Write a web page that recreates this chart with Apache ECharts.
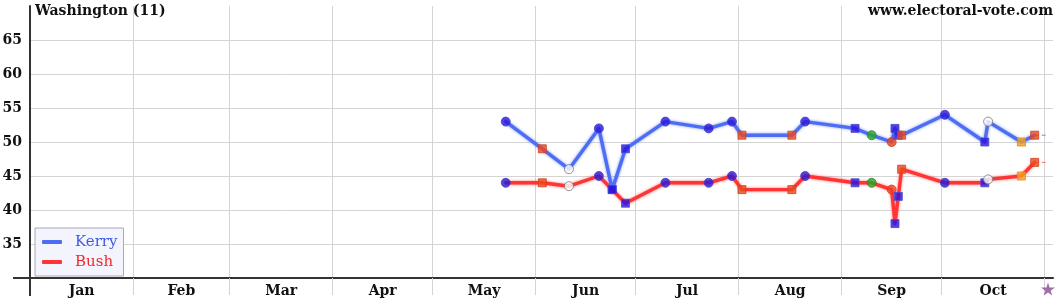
<!DOCTYPE html>
<html>
<head>
<meta charset="utf-8">
<script src="https://cdn.jsdelivr.net/npm/echarts@6/dist/echarts.min.js"></script>
<style>
html,body{margin:0;padding:0;background:#fff;}
#chart{width:1060px;height:300px;}
</style>
</head>
<body>
<div id="chart"></div>
<script>
// ---- data ----
const monthNames = ['Jan','Feb','Mar','Apr','May','Jun','Jul','Aug','Sep','Oct'];
const monthStarts = [0,31,60,91,121,152,182,213,244,274,305];   // day-of-year (2004)
const monthMids = [15.5,45.5,75.5,106,136.5,167,197.5,228.5,259,289.5];
const yTicks = [35,40,45,50,55,60,65];
const electionDay = 306;

const pollDays = [143,154,162,171,175,179,191,204,211,214,229,233,248,253,259,260,261,262,275,287,288,298,302];
const kerry    = [53, 49, 46, 52, 43, 49, 53, 52, 53, 51, 51, 53, 52, 51, 50, 52, 51, 51, 54, 50, 53, 50, 51];
const bush     = [44, 44, 43.5,45, 43, 41, 44, 44, 45, 43, 43, 45, 44, 44, 43, 38, 42, 46, 44, 44, 44.5,45, 47];
const pollsters= ['bc','rs','oc','bc','bs','bs','bc','bc','bc','rs','rs','bc','bs','gc','rc','bs','bs','rs','bc','bs','oc','os','rs'];

// ---- styles ----
const FONT = 'DejaVu Serif';
const markerStyles = {
  bc: {symbol:'circle', size:9, color:'#2c16d6', border:'#3d3dcc'},
  bs: {symbol:'rect',   size:8, color:'#2a12e2', border:'#4a4ad0'},
  rs: {symbol:'rect',   size:8, color:'#ea4a1e', border:'#d04020'},
  rc: {symbol:'circle', size:9, color:'#ec4420', border:'#cc3a1a'},
  gc: {symbol:'circle', size:9, color:'#22aa22', border:'#2f7f2f'},
  os: {symbol:'rect',   size:8, color:'#f4a020', border:'#e08a10'},
  oc: {symbol:'circle', size:9, color:'#ffffff', border:'#777777'}
};
const KERRY = '#4d6ef2', BUSH = '#ff3535';

function markerData(vals){
  return pollDays.map((d,i)=>{
    const s = markerStyles[pollsters[i]];
    return {value:[d, vals[i]], symbol:s.symbol, symbolSize:s.size,
            itemStyle:{color:s.color, borderColor:s.border, borderWidth:1}};
  });
}
const last = pollDays.length - 1;

const chart = echarts.init(document.getElementById('chart'), null, {renderer:'canvas'});
const option = {
  animation:false,
  title:[
    {text:'Washington (11)', left:35, top:2, textStyle:{fontFamily:FONT, fontWeight:'bold', fontSize:14, color:'#111'}, padding:[2,0,0,0]},
    {text:'www.electoral-vote.com', right:7, top:2, textStyle:{fontFamily:FONT, fontWeight:'bold', fontSize:14, color:'#111'}, padding:[2,0,0,0]}
  ],
  grid:{left:30, right:7, top:6, bottom:22, containLabel:false, outerBoundsMode:'none'},
  legend:{
    orient:'vertical', left:35, top:228,
    backgroundColor:'#f4f4ff', borderColor:'#a8a8b8', borderWidth:1, borderRadius:0,
    padding:[6,6,6,7], itemGap:4, itemWidth:20, itemHeight:4, icon:'roundRect',
    data:[
      {name:'Kerry', textStyle:{color:'#3a5ae8'}},
      {name:'Bush', textStyle:{color:'#f02828'}}
    ],
    textStyle:{fontFamily:FONT, fontSize:15, lineHeight:16, padding:[0,0,0,8]},
    selectedMode:false
  },
  xAxis:{
    type:'value', min:0, max:307.5,
    axisLine:{show:true, lineStyle:{color:'#333', width:2}},
    axisTick:{show:true, customValues:monthStarts, length:17, lineStyle:{color:'#d4d4d4', width:1}},
    splitLine:{show:true, lineStyle:{color:'#d4d4d4', width:1}},
    axisLabel:{customValues:monthMids, margin:6, fontFamily:FONT, fontWeight:'bold', fontSize:14, color:'#111',
      formatter:(v)=>{ const i = monthMids.indexOf(v); return i>=0 ? monthNames[i] : ''; }}
  },
  yAxis:{
    type:'value', min:30, max:70,
    axisLine:{show:true, lineStyle:{color:'#333', width:2}},
    axisTick:{show:false, customValues:yTicks},
    splitLine:{show:true, lineStyle:{color:'#d4d4d4', width:1}},
    axisLabel:{customValues:yTicks, margin:8, fontFamily:FONT, fontWeight:'bold', fontSize:14, color:'#111'}
  },
  series:[
    {name:'Bush', type:'line', data:pollDays.map((d,i)=>[d,bush[i]]), showSymbol:false, symbol:'none', z:2,
      color:BUSH,
      lineStyle:{color:BUSH, width:3.4, join:'round', cap:'round', shadowBlur:3, shadowColor:'rgba(255,50,50,0.7)'}},
    {name:'Kerry', type:'line', data:pollDays.map((d,i)=>[d,kerry[i]]), showSymbol:false, symbol:'none', z:3,
      color:KERRY,
      lineStyle:{color:KERRY, width:3.4, join:'round', cap:'round', shadowBlur:3, shadowColor:'rgba(70,100,240,0.7)'}},
    {name:'Bush-ext', type:'line', data:[[pollDays[last],bush[last]],[electionDay,bush[last]]], symbol:'none', z:2,
      lineStyle:{color:'#ff7070', width:1, type:[4,3]}},
    {name:'Kerry-ext', type:'line', data:[[pollDays[last],kerry[last]],[electionDay,kerry[last]]], symbol:'none', z:2,
      lineStyle:{color:'#7088f0', width:1, type:[4,3]}},
    {name:'Bush-polls', type:'scatter', data:markerData(bush), z:5},
    {name:'Kerry-polls', type:'scatter', data:markerData(kerry), z:5},
    {name:'Election', type:'scatter', data:[[electionDay,30]], symbol:'path://M50,0 L61,35 L98,35 L68,57 L79,91 L50,70 L21,91 L32,57 L2,35 L39,35 Z',
      symbolSize:[14,13], symbolOffset:[0,11], clip:false, itemStyle:{color:'#8a4898'}, z:6}
  ]
};
chart.setOption(option);

// axis-line extensions past the origin (as in the original graphic)
const o = chart.convertToPixel({gridIndex:0}, [0,30]);
chart.setOption({graphic:[
  {type:'line', shape:{x1:o[0], y1:o[1], x2:o[0], y2:o[1]+18}, style:{stroke:'#333', lineWidth:2}, z:10},
  {type:'line', shape:{x1:o[0]-17, y1:o[1], x2:o[0], y2:o[1]}, style:{stroke:'#333', lineWidth:2}, z:10}
]});
</script>
</body>
</html>
